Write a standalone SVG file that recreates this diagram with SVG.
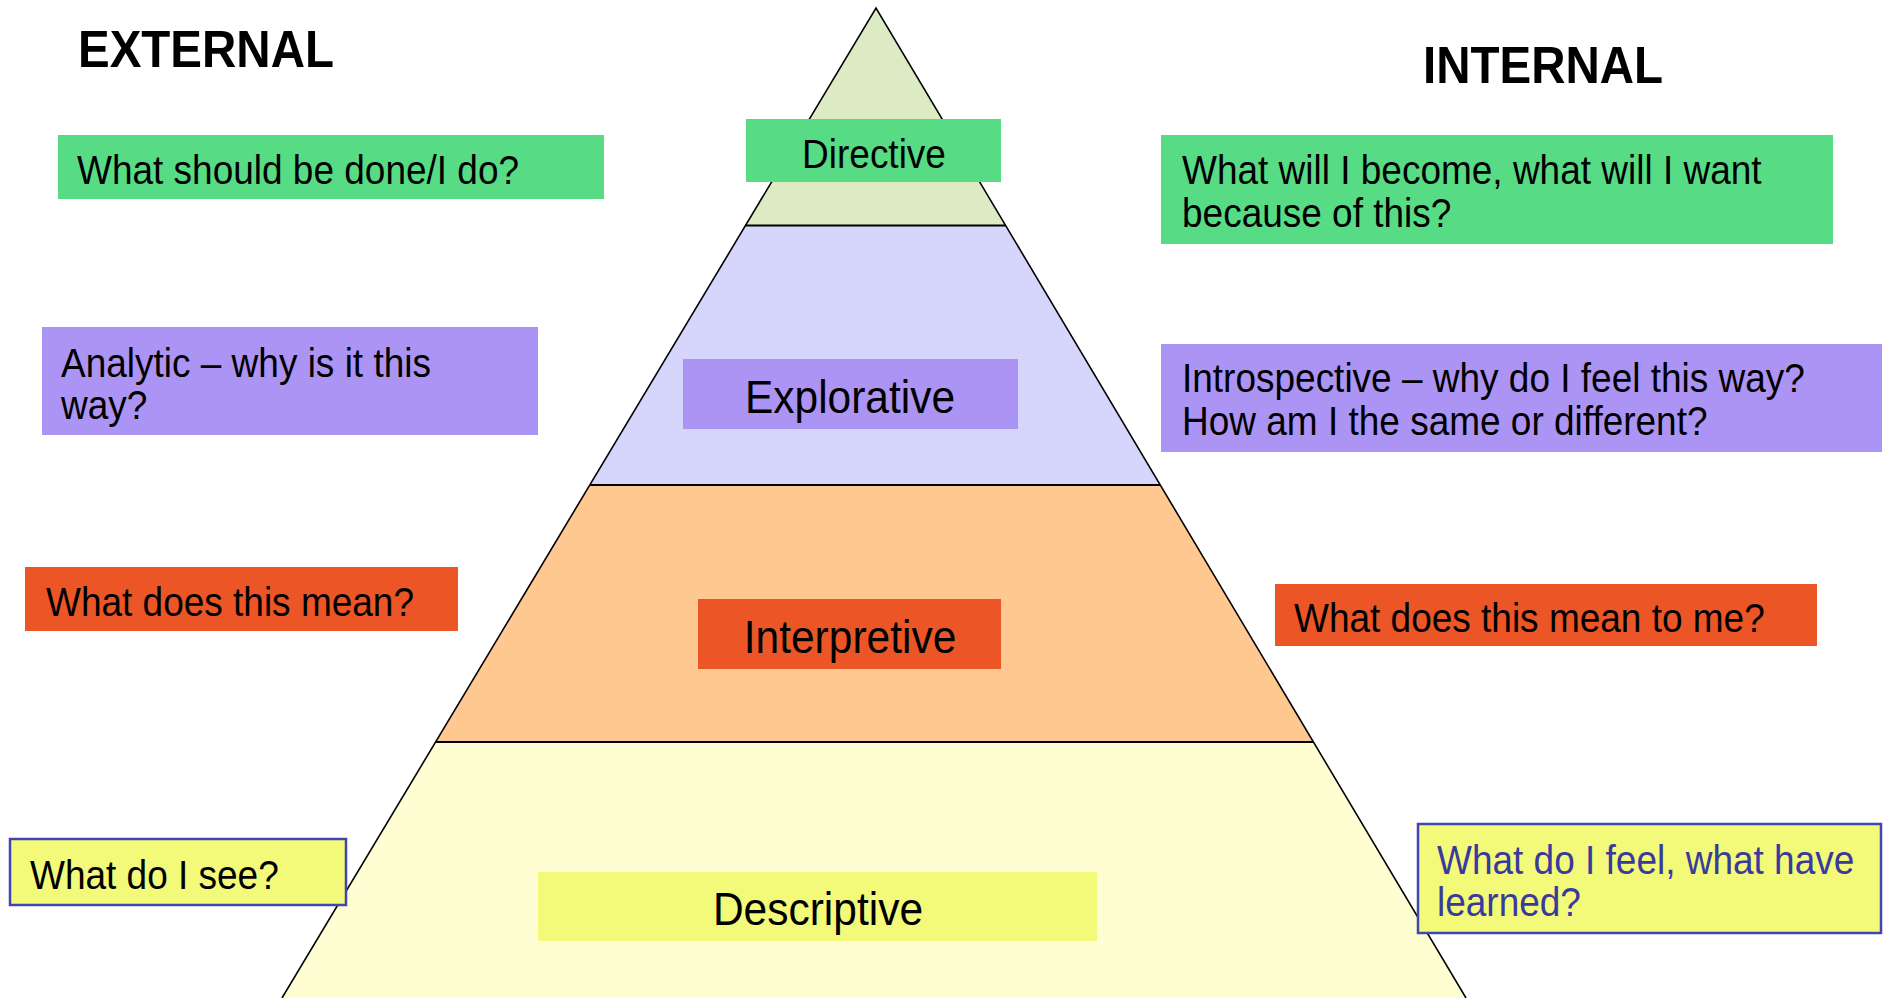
<svg xmlns="http://www.w3.org/2000/svg" width="1891" height="998" viewBox="0 0 1891 998">
<style>
  .t { font-family: "Liberation Sans", Arial, sans-serif; font-size: 37px; fill: #000; }
  .big { font-family: "Liberation Sans", Arial, sans-serif; font-size: 42.5px; fill: #000; text-anchor: middle; }
  .hdr { font-family: "Liberation Sans", Arial, sans-serif; font-size: 47.5px; font-weight: bold; fill: #000; }
  .green { fill: #57dc85; }
  .purple { fill: #ac94f4; }
  .orange { fill: #ec5627; }
  .yellow { fill: #f3f978; }
  .yb { fill: #f3f978; stroke: #4048b0; stroke-width: 2.5; }
  .edge { stroke: #000; stroke-width: 1.6; fill: none; }
  .sep { stroke: #000; stroke-width: 2.2; }
</style>
<rect width="1891" height="998" fill="#ffffff"/>

<g id="pyramid">
  <polygon points="876,8 745.5,225.5 1005.6,225.5" fill="#ddebc4"/>
  <polygon points="745.5,225.5 1005.6,225.5 1160,485 590,485" fill="#d6d6fc"/>
  <polygon points="590,485 1160,485 1313,742 436,742" fill="#ffc891"/>
  <polygon points="436,742 1313,742 1466,998 282,998" fill="#fffed3"/>
  <line class="sep" x1="745.5" y1="225.5" x2="1005.6" y2="225.5"/>
  <line class="sep" x1="590" y1="485" x2="1160" y2="485"/>
  <line class="sep" x1="436" y1="742" x2="1313" y2="742"/>
  <polyline class="edge" points="282,998 876,8 1466,998"/>
</g>

<g id="header-external">
  <text class="hdr" transform="translate(78,67) scale(1,1.1)">EXTERNAL</text>
</g>
<g id="header-internal">
  <text class="hdr" transform="translate(1423,83) scale(1,1.1)">INTERNAL</text>
</g>

<g id="directive">
  <rect class="green" x="746" y="119" width="255" height="63"/>
  <text class="t" text-anchor="middle" transform="translate(874,168) scale(1,1.1)">Directive</text>
</g>
<g id="ext-directive">
  <rect class="green" x="58" y="135" width="546" height="64"/>
  <text class="t" transform="translate(77,183.5) scale(1,1.1)">What should be done/I do?</text>
</g>
<g id="int-directive">
  <rect class="green" x="1161" y="135" width="672" height="109"/>
  <text class="t" transform="translate(1182,184) scale(1,1.1)"><tspan x="0" y="0">What will I become, what will I want</tspan><tspan x="0" y="39">because of this?</tspan></text>
</g>

<g id="explorative">
  <rect class="purple" x="683" y="359" width="335" height="70"/>
  <text class="big" transform="translate(850,413) scale(1,1.1)">Explorative</text>
</g>
<g id="ext-explorative">
  <rect class="purple" x="42" y="327" width="496" height="108"/>
  <text class="t" transform="translate(61,376.5) scale(1,1.1)"><tspan x="0" y="0">Analytic – why is it this</tspan><tspan x="0" y="39">way?</tspan></text>
</g>
<g id="int-explorative">
  <rect class="purple" x="1161" y="344" width="721" height="108"/>
  <text class="t" transform="translate(1182,392) scale(1,1.1)"><tspan x="0" y="0">Introspective – why do I feel this way?</tspan><tspan x="0" y="39">How am I the same or different?</tspan></text>
</g>

<g id="interpretive">
  <rect class="orange" x="698" y="599" width="303" height="70"/>
  <text class="big" transform="translate(850,653) scale(1,1.1)">Interpretive</text>
</g>
<g id="ext-interpretive">
  <rect class="orange" x="25" y="567" width="433" height="64"/>
  <text class="t" transform="translate(46,615.5) scale(1,1.1)">What does this mean?</text>
</g>
<g id="int-interpretive">
  <rect class="orange" x="1275" y="584" width="542" height="62"/>
  <text class="t" transform="translate(1294,631.5) scale(1,1.1)">What does this mean to me?</text>
</g>

<g id="descriptive">
  <rect class="yellow" x="538" y="872" width="559" height="69"/>
  <text class="big" transform="translate(818,925) scale(1,1.1)">Descriptive</text>
</g>
<g id="ext-descriptive">
  <rect class="yb" x="10" y="839" width="336" height="66"/>
  <text class="t" transform="translate(30,888.5) scale(1,1.1)">What do I see?</text>
</g>
<g id="int-descriptive">
  <rect class="yb" x="1418" y="824" width="463" height="109"/>
  <text class="t" style="fill:#3a3a9c" transform="translate(1437,873.5) scale(1,1.1)"><tspan x="0" y="0">What do I feel, what have</tspan><tspan x="0" y="39">learned?</tspan></text>
</g>
</svg>
